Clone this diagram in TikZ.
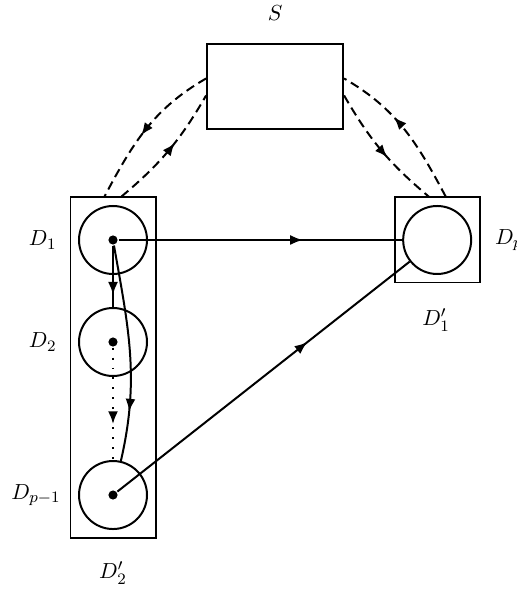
\documentclass[tikz,border=0pt]{standalone}
\usepackage{amsmath,amssymb}
\usepackage{xcolor}
\usepackage{tikz}
\usetikzlibrary{arrows.meta,positioning,decorations.markings}
\definecolor{lineBlack}{RGB}{0,0,0}

\begin{document}
\begin{tikzpicture}[x=1cm,y=1cm, line width=1pt, font={\fontsize{11}{13}\selectfont},
  disk/.style={draw=lineBlack, circle, minimum size=1.2cm, inner sep=0pt},
  dot/.style={fill=lineBlack, circle, minimum size=4.6pt, inner sep=0pt},
  box/.style={draw=lineBlack, rectangle, inner sep=0pt},
  dashline/.style={dash pattern=on 4.5pt off 2.6pt},
  midarrow/.style={postaction={decorate}, decoration={markings,
    mark=at position #1 with {\arrow{Latex[length=6.4pt,width=5pt]}}}}]
\useasboundingbox (-1.994,-6.176) rectangle (7.112,4.235);
\node[disk] (D1) at (0,0) {};
\node[disk] (D2) at (0,-1.8) {};
\node[disk] (Dq) at (0,-4.5) {};
\node[dot] (d1) at (D1) {};
\node[dot] (d2) at (D2) {};
\node[dot] (dq) at (Dq) {};
\node[box, minimum width=1.5cm, minimum height=6cm] (G2) at (0,-2.25) {};
\node[disk] (Dp) at (5.72,0) {};
\node[box, minimum width=1.5cm, minimum height=1.5cm] (G1) at (Dp) {};
\node[box, minimum width=2.4cm, minimum height=1.5cm] (S) at (2.86,2.7) {};
\node (labS) at (2.86,4.0) {$S$};
\node (labD1) at (-1.24,0) {$D_1$};
\node (labD2) at (-1.24,-1.8) {$D_2$};
\node (labDq) at (-1.36,-4.5) {$D_{p-1}$};
\node (labG2) at (0,-5.88) {$D_2'$};
\node (labG1) at (5.70,-1.41) {$D_1'$};
\node[right=0.12cm of G1] (labDp) {$D_p$};
\draw[midarrow=0.65] (d1) -- (Dp);
\draw[midarrow=0.65] (dq) -- (Dp);
\draw[midarrow=0.8] (d1) -- (D2);
\draw[dash pattern=on 1pt off 4pt, midarrow=0.68] (d2) -- (Dq);
\draw[midarrow=0.77] (d1) to[out=-80,in=77] (Dq);
\draw[dashline, midarrow=0.55] ([yshift=1.5mm]S.west) to[out=210,in=62] ([xshift=-1.5mm]G2.north);
\draw[dashline, midarrow=0.57] ([xshift=1.5mm]G2.north) to[out=40,in=240] ([yshift=-1.5mm]S.west);
\draw[dashline, midarrow=0.6] ([xshift=1.5mm]G1.north) to[out=118,in=330] ([yshift=1.5mm]S.east);
\draw[dashline, midarrow=0.57] ([yshift=-1.5mm]S.east) to[out=300,in=140] ([xshift=-1.5mm]G1.north);
\end{tikzpicture}
\end{document}
